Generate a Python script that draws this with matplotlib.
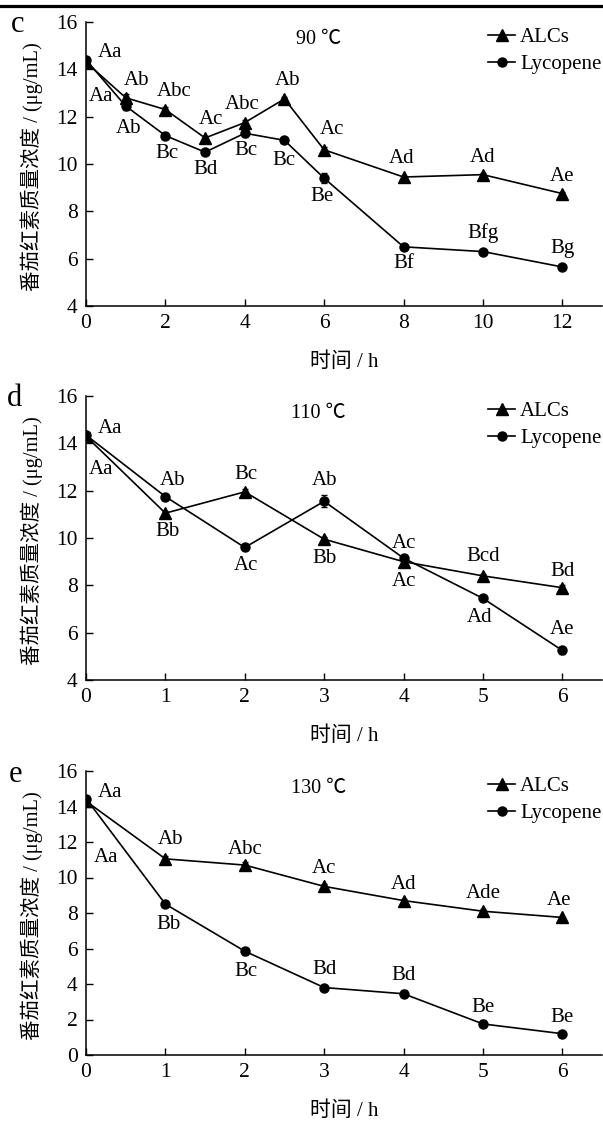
import numpy as np
import matplotlib.pyplot as plt
from matplotlib.lines import Line2D

plt.rcParams['font.family'] = ['Liberation Serif', 'Noto Sans CJK SC', 'DejaVu Sans']
plt.rcParams['font.size'] = 15

# c: 90 ℃
t_c = [0, 1, 2, 3, 4, 5, 6, 8, 10, 12]
alcs_c = [14.3, 12.8, 12.3, 11.1, 11.75, 12.75, 10.6, 9.45, 9.55, 8.75]
alcs_c_err = [0.1, 0.15, 0.1, 0.1, 0.1, 0.1, 0.1, 0.05, 0.05, 0.05]
lyc_c = [14.4, 12.45, 11.2, 10.5, 11.3, 11.0, 9.4, 6.5, 6.3, 5.65]
lyc_c_err = [0.1, 0.15, 0.1, 0.1, 0.15, 0.1, 0.2, 0.05, 0.05, 0.05]
alcs_c_lab = ['Aa', 'Ab', 'Abc', 'Ac', 'Abc', 'Ab', 'Ac', 'Ad', 'Ad', 'Ae']
lyc_c_lab = ['Aa', 'Ab', 'Bc', 'Bd', 'Bc', 'Bc', 'Be', 'Bf', 'Bfg', 'Bg']

# d: 110 ℃
t_d = [0, 1, 2, 3, 4, 5, 6]
alcs_d = [14.3, 11.05, 11.95, 9.95, 9.0, 8.4, 7.9]
alcs_d_err = [0.1, 0.1, 0.1, 0.1, 0.1, 0.1, 0.1]
lyc_d = [14.35, 11.75, 9.6, 11.55, 9.15, 7.45, 5.25]
lyc_d_err = [0.1, 0.1, 0.05, 0.25, 0.1, 0.05, 0.15]
alcs_d_lab = ['Aa', 'Bb', 'Bc', 'Bb', 'Ac', 'Bcd', 'Bd']
lyc_d_lab = ['Aa', 'Ab', 'Ac', 'Ab', 'Ac', 'Ad', 'Ae']

# e: 130 ℃
t_e = [0, 1, 2, 3, 4, 5, 6]
alcs_e = [14.3, 11.05, 10.7, 9.5, 8.7, 8.1, 7.75]
alcs_e_err = [0.1, 0.15, 0.15, 0.15, 0.1, 0.1, 0.05]
lyc_e = [14.45, 8.5, 5.85, 3.8, 3.45, 1.75, 1.2]
lyc_e_err = [0.15, 0.1, 0.2, 0.1, 0.2, 0.2, 0.05]
alcs_e_lab = ['Aa', 'Ab', 'Abc', 'Ac', 'Ad', 'Ade', 'Ae']
lyc_e_lab = ['Aa', 'Bb', 'Bc', 'Bd', 'Bd', 'Be', 'Be']

# label offsets in pixels (x right, y down)
off_alcs_c = [(15, 34), (11, -17), (9, -18), (6, -18), (-3, -18), (3, -18), (8, -20), (-2, -19), (0, -17), (0, -17)]
off_lyc_c = [(24, -7), (3, 22), (2, 18), (0, 17), (1, 17), (-1, 20), (-2, 18), (0, 17), (0, -19), (0, -18)]
off_alcs_d = [(15, 33), (2, 18), (1, -17), (0, 19), (0, 20), (0, -19), (0, -16)]
off_lyc_d = [(24, -7), (7, -16), (1, 18), (0, -21), (0, -15), (-3, 19), (0, -21)]
off_alcs_e = [(20, 56), (5, -19), (0, -16), (0, -18), (0, -16), (0, -18), (-3, -17)]
off_lyc_e = [(24, -6), (3, 20), (1, 20), (0, -18), (0, -18), (0, -16), (0, -16)]

fig = plt.figure(figsize=(6.03, 11.22), dpi=100)
W, H = 603, 1122


def panel(top_px, t, alcs, alcs_err, lyc, lyc_err, alcs_lab, lyc_lab,
          off_a, off_l, title, letter, letter_xy, xmax, ymin, xstep):
    ax = fig.add_axes([86 / W, 1 - (top_px + 284) / H, 516 / W, 284 / H])
    ax.errorbar(t, alcs, yerr=alcs_err, color='black', lw=1.2, marker='^',
                ms=8, capsize=2.5, elinewidth=0.9)
    ax.errorbar(t, lyc, yerr=lyc_err, color='black', lw=1.2, marker='o',
                ms=6.5, capsize=2.5, elinewidth=0.9)
    h1 = Line2D([], [], color='black', lw=1.2, marker='^', ms=8)
    h2 = Line2D([], [], color='black', lw=1.2, marker='o', ms=6.5)
    for x, y, s, o in zip(t, alcs, alcs_lab, off_a):
        ax.annotate(s, (x, y), xytext=(o[0], -o[1]), textcoords='offset pixels',
                    ha='center', va='center', fontsize=15)
    for x, y, s, o in zip(t, lyc, lyc_lab, off_l):
        ax.annotate(s, (x, y), xytext=(o[0], -o[1]), textcoords='offset pixels',
                    ha='center', va='center', fontsize=15)
    ax.set_xlim(0, xmax)
    ax.set_ylim(ymin, 16)
    ax.set_xticks(np.arange(0, xmax, xstep))
    ax.set_yticks(np.arange(ymin, 17, 2))
    ax.spines['top'].set_visible(False)
    ax.spines['right'].set_visible(False)
    for s in ['left', 'bottom']:
        ax.spines[s].set_linewidth(1.1)
    ax.tick_params(direction='in', length=5, width=1.0, labelsize=15.5, pad=6)
    ax.set_xlabel('时间 / h', fontsize=15)
    ax.xaxis.set_label_coords(0.5, -0.165)
    ax.set_ylabel('番茄红素质量浓度 / (μg/mL)', fontsize=14.8)
    ax.yaxis.set_label_coords(-0.083, 0.49)
    ax.text(0.45, 0.94, title, transform=ax.transAxes, ha='center', va='center',
            fontsize=14.5)
    ax.legend([h1, h2], ['ALCs', 'Lycopene'], loc='upper left',
              bbox_to_anchor=(0.779, 0.98), frameon=False,
              borderpad=0, borderaxespad=0, handlelength=1.3, handletextpad=0.25,
              labelspacing=0.35, fontsize=15)
    fig.text(letter_xy[0] / W, 1 - letter_xy[1] / H, letter, ha='center',
             va='center', fontsize=22)


panel(22, t_c, alcs_c, alcs_c_err, lyc_c, lyc_c_err, alcs_c_lab, lyc_c_lab,
      off_alcs_c, off_lyc_c, '90 ℃', 'c', (18, 24), 13, 4, 2)
panel(396, t_d, alcs_d, alcs_d_err, lyc_d, lyc_d_err, alcs_d_lab, lyc_d_lab,
      off_alcs_d, off_lyc_d, '110 ℃', 'd', (15, 399), 6.5, 4, 1)
panel(771, t_e, alcs_e, alcs_e_err, lyc_e, lyc_e_err, alcs_e_lab, lyc_e_lab,
      off_alcs_e, off_lyc_e, '130 ℃', 'e', (15, 774), 6.5, 0, 1)

fig.add_artist(Line2D([0, 1], [1 - 5.5 / H, 1 - 5.5 / H], color='black', lw=2.3))

fig.savefig('out.png', dpi=100)
